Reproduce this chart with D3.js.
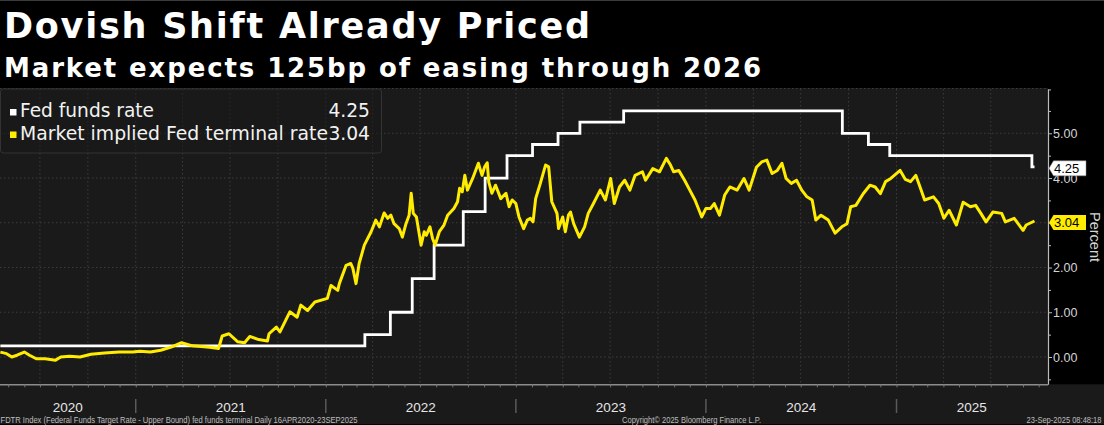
<!DOCTYPE html>
<html><head><meta charset="utf-8">
<script src="https://cdn.jsdelivr.net/npm/d3@7"></script>
<style>html,body{margin:0;padding:0;background:#000;overflow:hidden}svg{display:block}</style>
</head><body>
<svg id="chart" width="1104" height="425"></svg>
<script>
// ---- DATA ----
const fedDates = ["2020-04-16","2022-03-17","2022-05-05","2022-06-16","2022-07-28","2022-09-22","2022-11-03","2022-12-15","2023-02-02","2023-03-23","2023-05-04","2023-07-27","2024-09-19","2024-11-08","2024-12-19","2025-09-18","2025-09-23"];
const fedValues = [0.25,0.50,1.00,1.75,2.50,3.25,4.00,4.50,4.75,5.00,5.25,5.50,5.00,4.75,4.50,4.25,4.25];

const termDates = [
"2020-04-16","2020-04-28","2020-05-08","2020-05-18","2020-06-01","2020-06-11","2020-06-24","2020-07-11","2020-07-31","2020-08-10","2020-08-27","2020-09-16","2020-10-07","2020-11-02","2020-11-30","2020-12-26",
"2021-01-09","2021-01-29","2021-02-18","2021-03-10","2021-03-30","2021-04-20","2021-05-23","2021-06-09","2021-06-16","2021-06-29","2021-07-16","2021-07-29","2021-08-08","2021-08-25","2021-09-11","2021-09-14","2021-09-28","2021-10-05","2021-10-24","2021-11-07","2021-11-14","2021-11-27","2021-12-11",
"2022-01-04","2022-01-11","2022-01-24","2022-01-27","2022-02-09","2022-02-18","2022-02-22","2022-02-28","2022-03-06","2022-03-16","2022-03-29","2022-04-07","2022-04-14","2022-04-23","2022-04-30","2022-05-06","2022-05-12","2022-05-22","2022-05-28","2022-06-04","2022-06-10","2022-06-14","2022-06-18","2022-06-24","2022-07-03","2022-07-09","2022-07-13","2022-07-20","2022-07-25","2022-07-30","2022-08-07","2022-08-16","2022-08-23","2022-09-04","2022-09-11","2022-09-15","2022-09-20","2022-09-25","2022-09-30","2022-10-10","2022-10-21","2022-10-28","2022-11-02","2022-11-07","2022-11-10","2022-11-16","2022-11-23","2022-12-03","2022-12-13","2022-12-19","2022-12-25",
"2023-01-01","2023-01-07","2023-01-16","2023-01-23","2023-01-29","2023-02-03","2023-02-08","2023-02-17","2023-02-27","2023-03-05","2023-03-11","2023-03-21","2023-03-24","2023-04-01","2023-04-06","2023-04-12","2023-04-16","2023-04-22","2023-05-03","2023-05-13","2023-05-20","2023-05-30","2023-06-12","2023-06-22","2023-07-02","2023-07-09","2023-07-19","2023-07-29","2023-08-08","2023-08-18","2023-09-01","2023-09-07","2023-09-21","2023-10-04","2023-10-17","2023-10-25","2023-10-31","2023-11-10","2023-11-21","2023-12-01","2023-12-11","2023-12-24",
"2024-01-01","2024-01-10","2024-01-17","2024-01-27","2024-02-06","2024-02-16","2024-03-01","2024-03-14","2024-03-24","2024-04-07","2024-04-17","2024-04-27","2024-05-07","2024-05-17","2024-05-26","2024-06-03","2024-06-13","2024-06-23","2024-07-03","2024-07-13","2024-07-23","2024-07-30","2024-08-09","2024-08-23","2024-09-05","2024-09-18","2024-09-28","2024-10-05","2024-10-15","2024-10-29","2024-11-11","2024-11-21","2024-12-01","2024-12-11","2024-12-21",
"2025-01-08","2025-01-18","2025-01-28","2025-02-07","2025-02-14","2025-02-24","2025-03-13","2025-03-23","2025-04-02","2025-04-12","2025-04-26","2025-05-09","2025-05-23","2025-06-02","2025-06-12","2025-06-22","2025-07-05","2025-07-22","2025-07-29","2025-08-15","2025-09-01","2025-09-07","2025-09-23"];
const termValues = [
0.11,0.075,0.00,0.04,0.11,0.04,-0.04,-0.04,-0.07,0.00,0.015,0.00,0.06,0.09,0.11,0.11,
0.13,0.11,0.15,0.22,0.32,0.25,0.22,0.19,0.47,0.52,0.34,0.32,0.46,0.39,0.36,0.52,0.67,0.56,1.01,0.89,1.16,1.04,1.23,
1.31,1.60,1.49,1.64,2.05,2.09,1.98,1.64,2.09,2.50,2.80,3.06,2.91,3.22,3.10,3.17,2.98,2.87,2.68,2.98,3.17,3.66,3.21,3.13,2.50,2.80,2.72,2.91,2.65,2.50,2.80,2.95,3.17,3.32,3.47,3.77,3.69,4.06,3.73,3.99,4.33,4.06,4.25,4.34,3.91,3.66,3.84,3.54,3.66,3.36,3.51,
3.43,3.13,2.87,3.06,3.10,3.02,3.54,3.88,4.29,4.25,3.47,3.21,2.87,3.13,2.80,3.17,3.24,2.98,2.68,2.91,3.21,3.43,3.73,3.51,3.99,3.43,3.80,3.95,3.73,4.06,4.14,3.95,4.21,4.14,4.44,4.29,4.14,4.17,3.95,3.73,3.51,3.13,
3.32,3.32,3.43,3.17,3.62,3.80,3.73,3.99,3.73,4.24,4.36,4.40,4.10,4.17,4.33,3.99,3.88,3.95,3.73,3.58,3.51,3.06,3.17,3.06,2.77,2.91,2.98,3.36,3.39,3.65,3.84,3.80,3.65,3.92,3.99,
4.17,3.97,3.92,4.06,3.84,3.51,3.58,3.43,3.10,3.28,2.95,3.46,3.36,3.39,3.21,3.02,3.24,3.21,3.02,3.10,2.83,2.95,3.04];

const yTicks = [0,1,2,3,4,5];
const yMinorTicks = [-0.5,0.5,1.5,2.5,3.5,4.5,5.5];
const yearLabels = ["2020","2021","2022","2023","2024","2025"];
const legendNames = ["Fed funds rate","Market implied Fed terminal rate"];
const lastValues = [4.25, 3.04];
const seriesColors = ["#ffffff","#ffec00"];

// ---- SETUP ----
const parse = d3.utcParse("%Y-%m-%d");
const svg = d3.select("#chart");
const PL = 0, PR = 1048, PT = 89, PB = 384.3;

const x = d3.scaleUtc().domain([parse("2020-04-16"), parse("2025-10-17")]).range([0.35, 1047]);
const y = d3.scaleLinear().domain([-0.61, 5.99]).range([PB, PT]);

svg.append("rect").attr("width",1104).attr("height",425).attr("fill","#000");
svg.append("line").attr("x1",0).attr("x2",1104).attr("y1",0.5).attr("y2",0.5).attr("stroke","#3a3a3a");
svg.append("rect").attr("x",0).attr("y",88).attr("width",PR).attr("height",PB-88).attr("fill","#1a1a1a");
svg.append("rect").attr("x",0).attr("y",PB).attr("width",1104).attr("height",424-PB).attr("fill","#1a1a1a");

// Titles
svg.append("text").attr("x",4).attr("y",38).text("Dovish Shift Already Priced")
  .attr("font-family","DejaVu Sans").attr("font-weight","bold").attr("font-size",35)
  .attr("fill","#fff").attr("textLength",586).attr("lengthAdjust","spacing");
svg.append("text").attr("x",4).attr("y",77.3).text("Market expects 125bp of easing through 2026")
  .attr("font-family","DejaVu Sans").attr("font-weight","bold").attr("font-size",26)
  .attr("fill","#fff").attr("textLength",757).attr("lengthAdjust","spacing");

// Grid
const grid = svg.append("g");
[0,1,2,3,4,5,6].forEach(v => {
  grid.append("line").attr("x1",PL).attr("x2",PR).attr("y1",y(v)).attr("y2",y(v))
    .attr("stroke","#3d3d3d").attr("stroke-dasharray","1.5,2.5");
});
d3.utcMonth.every(3).range(parse("2020-07-01"), parse("2025-10-01")).forEach(d => {
  grid.append("line").attr("x1",x(d)).attr("x2",x(d)).attr("y1",PT).attr("y2",PB)
    .attr("stroke","#3d3d3d").attr("stroke-dasharray","1.5,2.5");
});

// Legend box
svg.append("rect").attr("x",0.5).attr("y",89).attr("width",381).attr("height",64).attr("rx",3)
  .attr("fill","rgba(26,26,26,0.55)").attr("stroke","#333");

// Lines
const fedData = fedDates.map((d,i)=>({date:parse(d), value:fedValues[i]}));
const termData = termDates.map((d,i)=>({date:parse(d), value:termValues[i]}));

svg.append("path").datum(fedData)
  .attr("d", d3.line().x(d=>x(d.date)).y(d=>y(d.value)).curve(d3.curveStepAfter))
  .attr("fill","none").attr("stroke",seriesColors[0]).attr("stroke-width",2.8);
svg.append("path").datum(termData)
  .attr("d", d3.line().x(d=>x(d.date)).y(d=>y(d.value)))
  .attr("fill","none").attr("stroke",seriesColors[1]).attr("stroke-width",3)
  .attr("stroke-linejoin","round");

// Bottom axis
const xAxis = d3.axisBottom(x).ticks(d3.utcMonth.every(1)).tickSize(3).tickSizeOuter(0).tickFormat("");
const gx = svg.append("g").attr("transform",`translate(0,${PB})`).call(xAxis);
gx.select(".domain").attr("stroke","#8c8c8c").attr("stroke-width",1.6).attr("d",`M${PL},0.5H${PR}`);
gx.selectAll(".tick line").attr("stroke","#777");

// Year labels & separators
const yearsG = svg.append("g");
yearLabels.forEach(yl => {
  const yr = +yl;
  const s = Math.max(x(parse(yr+"-01-01")), PL);
  const e = Math.min(x(parse((yr+1)+"-01-01")), 1047);
  yearsG.append("text").attr("x",(s+e)/2).attr("y",412.3).attr("text-anchor","middle")
    .attr("font-family","Liberation Sans").attr("font-size",13.5).attr("fill","#e6e6e6").text(yl);
  if (yr > 2020) {
    yearsG.append("line").attr("x1",s).attr("x2",s).attr("y1",399).attr("y2",413)
      .attr("stroke","#5a5a5a").attr("stroke-width",1.5);
  }
});

// Right axis
const yAxis = d3.axisRight(y).tickValues(yTicks).tickSize(4).tickPadding(1).tickSizeOuter(0)
  .tickFormat(d3.format(".2f"));
const gy = svg.append("g").attr("transform",`translate(${PR},0)`).call(yAxis);
gy.select(".domain").attr("stroke","#bdbdbd").attr("stroke-width",1.2);
gy.selectAll(".tick line").attr("stroke","#bdbdbd");
gy.selectAll(".tick text").attr("font-family","Liberation Sans").attr("font-size",12.5).attr("fill","#d4d4d4");
const yMinor = d3.axisRight(y).tickValues(yMinorTicks.concat([5.98])).tickSize(3).tickSizeOuter(0).tickFormat("");
const gym = svg.append("g").attr("transform",`translate(${PR},0)`).call(yMinor);
gym.select(".domain").remove();
gym.selectAll(".tick line").attr("stroke","#bdbdbd");

svg.append("text").attr("transform","translate(1090,237) rotate(90)").attr("text-anchor","middle")
  .attr("font-family","Liberation Sans").attr("font-size",14.5).attr("fill","#d4d4d4").text("Percent");

// Last value tags
lastValues.forEach((v,i) => {
  const cy = y(v) + 1.5;
  const h = 7.5;
  svg.append("path")
    .attr("d",`M1049,${cy}L1053.5,${cy-h}H1086V${cy+h}H1053.5Z`)
    .attr("fill",seriesColors[i]).attr("stroke", i===0 ? "#888" : "none").attr("stroke-width",0.5);
  svg.append("text").attr("x",1054).attr("y",cy).attr("dy","0.36em")
    .attr("font-family","Liberation Sans").attr("font-size",13).attr("fill","#000")
    .text(d3.format(".2f")(v));
});

// Legend content
const legendLen = [134, 308];
legendNames.forEach((n,i) => {
  const base = i===0 ? 117 : 139.5;
  svg.append("rect").attr("x",10).attr("y",base-8).attr("width",6.5).attr("height",6.5)
    .attr("fill",seriesColors[i]);
  svg.append("text").attr("x",20).attr("y",base).text(n)
    .attr("font-family","DejaVu Sans").attr("font-size",18.7).attr("fill","#f2f2f2")
    .attr("textLength",legendLen[i]).attr("lengthAdjust","spacingAndGlyphs");
  svg.append("text").attr("x",370).attr("y",base).attr("text-anchor","end")
    .text(d3.format(".2f")(lastValues[i]))
    .attr("font-family","DejaVu Sans").attr("font-size",18.7).attr("fill","#f2f2f2");
});

// Footer
const foot = svg.append("g").attr("font-family","Liberation Sans Narrow, Liberation Sans").attr("font-size",9).attr("fill","#bdbdbd").style("white-space","pre");
foot.append("text").attr("x",0.5).attr("y",422.5).attr("textLength",357).attr("lengthAdjust","spacingAndGlyphs")
  .text("FDTR Index (Federal Funds Target Rate - Upper Bound) fed funds terminal  Daily 16APR2020-23SEP2025");
foot.append("text").attr("x",622).attr("y",422.5).attr("textLength",139).attr("lengthAdjust","spacingAndGlyphs")
  .text("Copyright\u00A9 2025 Bloomberg Finance L.P.");
foot.append("text").attr("x",1101.5).attr("y",422.5).attr("text-anchor","end").attr("textLength",75).attr("lengthAdjust","spacingAndGlyphs")
  .text("23-Sep-2025 08:48:18");
</script>
</body></html>
